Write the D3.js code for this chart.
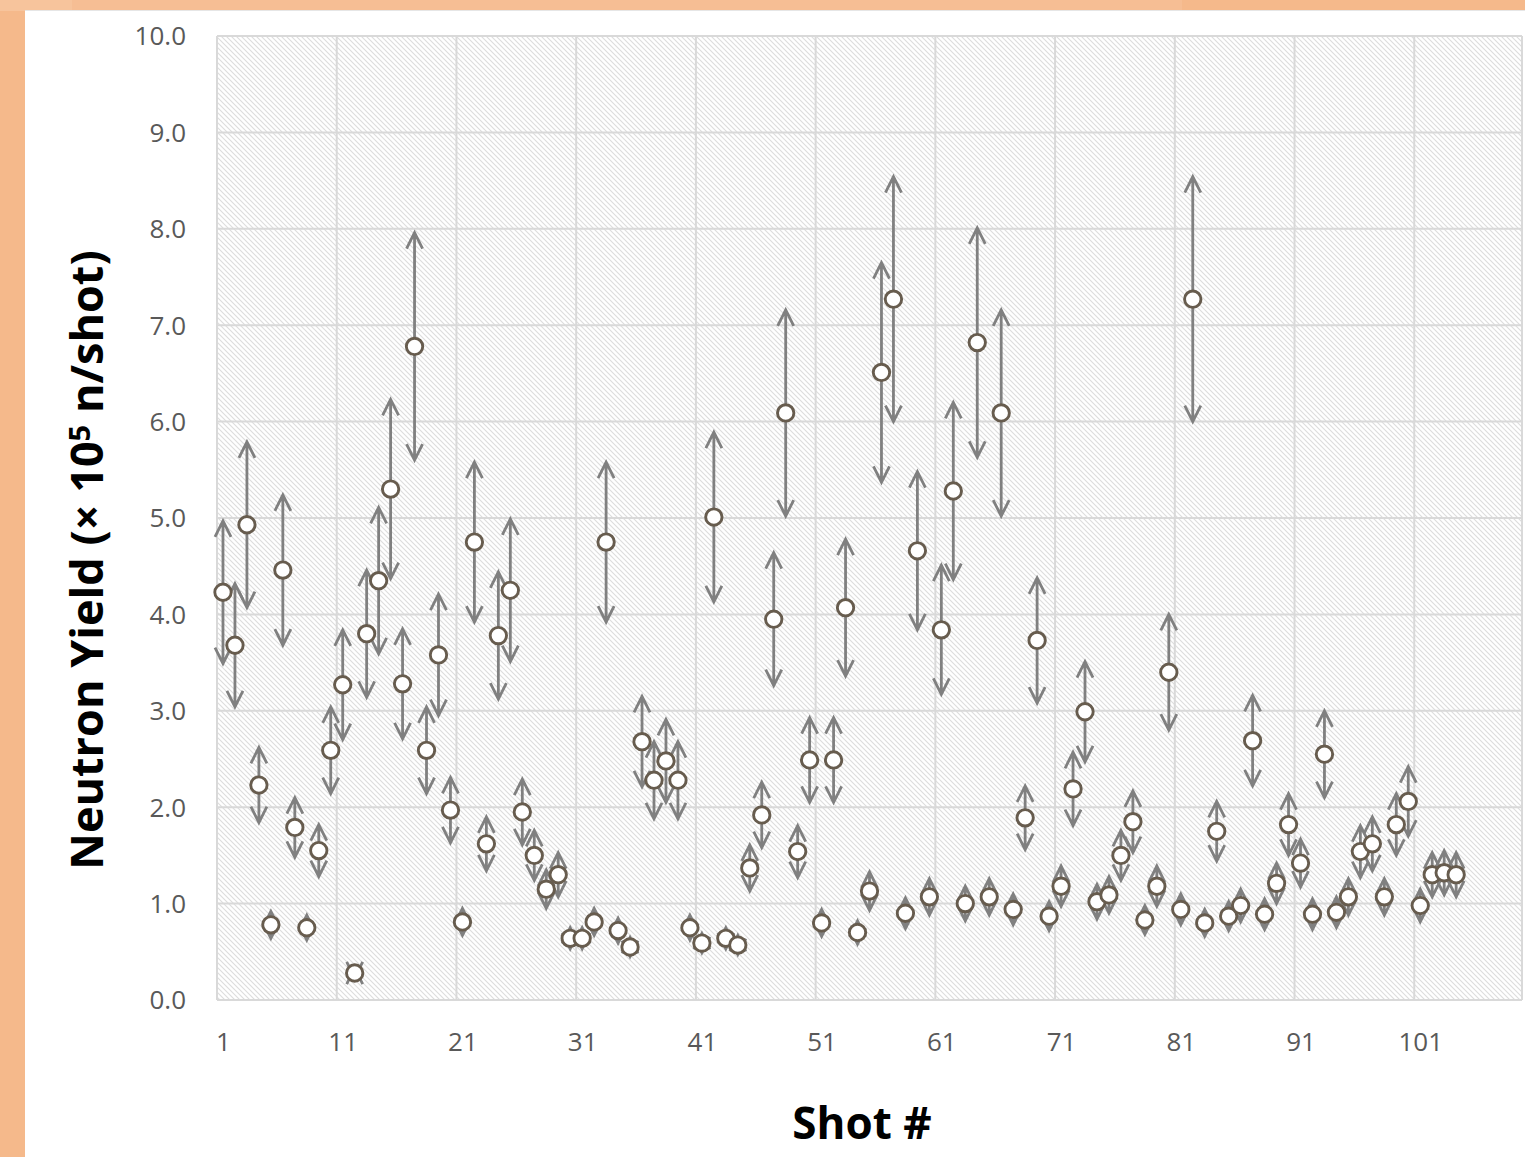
<!DOCTYPE html>
<html>
<head>
<meta charset="utf-8">
<script src="https://cdn.jsdelivr.net/npm/d3@7"></script>
<style>
  body { margin: 0; background: #f5b98b; }
  svg { display: block; }
</style>
</head>
<body>
<script>
// shot numbers 1..104 (axis runs to 109 categories)
var shots = [
  1, 2, 3, 4, 5, 6, 7, 8, 9, 10, 11, 12, 13, 14, 15, 16, 17, 18, 19, 20,
  21, 22, 23, 24, 25, 26, 27, 28, 29, 30, 31, 32, 33, 34, 35, 36, 37, 38, 39, 40,
  41, 42, 43, 44, 45, 46, 47, 48, 49, 50, 51, 52, 53, 54, 55, 56, 57, 58, 59, 60,
  61, 62, 63, 64, 65, 66, 67, 68, 69, 70, 71, 72, 73, 74, 75, 76, 77, 78, 79, 80,
  81, 82, 83, 84, 85, 86, 87, 88, 89, 90, 91, 92, 93, 94, 95, 96, 97, 98, 99, 100,
  101, 102, 103, 104
]

// neutron yield, x 10^5 n/shot
var yields = [
  4.23, 3.68, 4.93, 2.23, 0.78, 4.46, 1.79, 0.75, 1.55, 2.59,
  3.27, 0.28, 3.80, 4.35, 5.30, 3.28, 6.78, 2.59, 3.58, 1.97,
  0.81, 4.75, 1.62, 3.78, 4.25, 1.95, 1.50, 1.15, 1.30, 0.64,
  0.64, 0.81, 4.75, 0.72, 0.55, 2.68, 2.28, 2.48, 2.28, 0.75,
  0.59, 5.01, 0.64, 0.57, 1.37, 1.92, 3.95, 6.09, 1.54, 2.49,
  0.80, 2.49, 4.07, 0.70, 1.13, 6.51, 7.27, 0.90, 4.66, 1.07,
  3.84, 5.28, 1.00, 6.82, 1.07, 6.09, 0.94, 1.89, 3.73, 0.87,
  1.18, 2.19, 2.99, 1.02, 1.09, 1.50, 1.85, 0.83, 1.18, 3.40,
  0.94, 7.27, 0.80, 1.75, 0.87, 0.98, 2.69, 0.89, 1.21, 1.82,
  1.42, 0.89, 2.55, 0.91, 1.07, 1.54, 1.62, 1.07, 1.82, 2.06,
  0.98, 1.30, 1.32, 1.30
]

// half-length of the error bars
var errors = [
  0.74, 0.64, 0.86, 0.39, 0.14, 0.78, 0.31, 0.13, 0.27, 0.45,
  0.57, 0.05, 0.66, 0.76, 0.93, 0.57, 1.18, 0.45, 0.63, 0.34,
  0.14, 0.83, 0.28, 0.66, 0.74, 0.34, 0.26, 0.20, 0.23, 0.11,
  0.11, 0.14, 0.83, 0.13, 0.10, 0.47, 0.40, 0.43, 0.40, 0.13,
  0.10, 0.88, 0.11, 0.10, 0.24, 0.34, 0.69, 1.07, 0.27, 0.44,
  0.14, 0.44, 0.71, 0.12, 0.20, 1.14, 1.27, 0.16, 0.82, 0.19,
  0.67, 0.92, 0.18, 1.19, 0.19, 1.07, 0.16, 0.33, 0.65, 0.15,
  0.21, 0.38, 0.52, 0.18, 0.19, 0.26, 0.32, 0.15, 0.21, 0.60,
  0.16, 1.27, 0.14, 0.31, 0.15, 0.17, 0.47, 0.16, 0.21, 0.32,
  0.25, 0.16, 0.45, 0.16, 0.19, 0.27, 0.28, 0.19, 0.32, 0.36,
  0.17, 0.23, 0.23, 0.23
]

var xTickLabels = [1, 11, 21, 31, 41, 51, 61, 71, 81, 91, 101]
var yTickLabels = [0, 1, 2, 3, 4, 5, 6, 7, 8, 9, 10]
var categoryCount = 109

var data = shots.map(function (s, i) {
  return { shot: s, value: yields[i], err: errors[i] }
})

var W = 1525, H = 1157
var plot = { left: 217, top: 36, right: 1522, bottom: 1000 }

var svg = d3.select('body').append('svg')
  .attr('width', W)
  .attr('height', H)

// orange frame + white panel
svg.append('rect').attr('width', W).attr('height', H).attr('fill', '#f5b98b')
svg.append('rect').attr('x', 0).attr('y', 0).attr('width', 1182).attr('height', 11).attr('fill', '#f6be94')
svg.append('rect').attr('x', 0).attr('y', 0).attr('width', 72).attr('height', 11).attr('fill', '#f7c49c')
svg.append('rect').attr('x', 25).attr('y', 10).attr('width', W - 25).attr('height', H - 10).attr('fill', '#ffffff')
svg.append('line').attr('x1', 25).attr('x2', W).attr('y1', 10.5).attr('y2', 10.5)
  .attr('stroke', '#e6e6e6').attr('stroke-width', 1)

// hatch fill for plot area
var defs = svg.append('defs')
var pat = defs.append('pattern')
  .attr('id', 'hatch')
  .attr('patternUnits', 'userSpaceOnUse')
  .attr('width', 5).attr('height', 5)
pat.append('rect').attr('width', 5).attr('height', 5).attr('fill', '#ffffff')
pat.append('path')
  .attr('d', 'M-1,-1 L6,6 M-1,4 L1,6 M4,-1 L6,1')
  .attr('stroke', '#dddddd')
  .attr('stroke-width', 1.1)

var x = d3.scaleLinear()
  .domain([0.5, categoryCount + 0.5])
  .range([plot.left, plot.right])

var y = d3.scaleLinear()
  .domain([0, 10])
  .range([plot.bottom, plot.top])

svg.append('rect')
  .attr('x', plot.left).attr('y', plot.top)
  .attr('width', plot.right - plot.left)
  .attr('height', plot.bottom - plot.top)
  .attr('fill', 'url(#hatch)')

// gridlines
var grid = svg.append('g').attr('class', 'grid')
grid.selectAll('.hgrid')
  .data(yTickLabels)
  .enter().append('line')
  .attr('x1', plot.left).attr('x2', plot.right)
  .attr('y1', function (d) { return y(d) }).attr('y2', function (d) { return y(d) })
  .attr('stroke', '#d9d9d9').attr('stroke-width', 2)

// vertical gridlines sit between categories, every 10
var vgrid = d3.range(0.5, categoryCount + 0.6, 10).concat([categoryCount + 0.5])
grid.selectAll('.vgrid')
  .data(vgrid)
  .enter().append('line')
  .attr('x1', function (d) { return x(d) }).attr('x2', function (d) { return x(d) })
  .attr('y1', plot.top).attr('y2', plot.bottom)
  .attr('stroke', '#d9d9d9').attr('stroke-width', 2)

// axes
var yAxis = svg.append('g')
  .attr('transform', 'translate(' + (plot.left - 31) + ',0)')
  .call(d3.axisLeft(y).tickValues(yTickLabels).tickFormat(d3.format('.1f')).tickSize(0).tickPadding(0))
yAxis.select('.domain').remove()
yAxis.selectAll('text')
  .attr('fill', '#595959')
  .style('font-family', 'Open Sans')
  .style('font-size', '26px')
  .attr('dy', '0.34em')

var xAxis = svg.append('g')
  .attr('transform', 'translate(0,' + (plot.bottom + 33) + ')')
  .call(d3.axisBottom(x).tickValues(xTickLabels).tickFormat(d3.format('d')).tickSize(0).tickPadding(0))
xAxis.select('.domain').remove()
xAxis.selectAll('text')
  .attr('fill', '#595959')
  .style('font-family', 'Open Sans')
  .style('font-size', '26px')

// error bars with open arrow heads
var aw = 8, ah = 16
var bars = svg.append('g').attr('class', 'errbars')
bars.selectAll('path')
  .data(data)
  .enter().append('path')
  .attr('d', function (d) {
    var cx = x(d.shot)
    var t = y(d.value + d.err)
    var b = y(d.value - d.err)
    return 'M' + cx + ',' + t + 'L' + cx + ',' + b +
      'M' + (cx - aw) + ',' + (t + ah) + 'L' + cx + ',' + t + 'L' + (cx + aw) + ',' + (t + ah) +
      'M' + (cx - aw) + ',' + (b - ah) + 'L' + cx + ',' + b + 'L' + (cx + aw) + ',' + (b - ah)
  })
  .attr('fill', 'none')
  .attr('stroke', '#808080')
  .attr('stroke-width', 2.8)

// markers
svg.append('g').attr('class', 'markers')
  .selectAll('circle')
  .data(data)
  .enter().append('circle')
  .attr('cx', function (d) { return x(d.shot) })
  .attr('cy', function (d) { return y(d.value) })
  .attr('r', 8.2)
  .attr('fill', '#ffffff')
  .attr('stroke', '#675c4e')
  .attr('stroke-width', 2.9)

// axis titles
svg.append('text')
  .attr('transform', 'translate(103,560) rotate(-90)')
  .attr('text-anchor', 'middle')
  .style('font-family', 'Open Sans')
  .style('font-weight', 'bold')
  .style('font-size', '45px')
  .attr('fill', '#000000')
  .call(function (t) {
    t.append('tspan').text('Neutron Yield (\u00d7 10')
    t.append('tspan').attr('dy', '-0.45em').style('font-size', '29px').text('5')
    t.append('tspan').attr('dy', '0.29em').text(' n/shot)')
  })

svg.append('text')
  .attr('x', 862)
  .attr('y', 1139)
  .attr('text-anchor', 'middle')
  .style('font-family', 'Open Sans')
  .style('font-weight', 'bold')
  .style('font-size', '44px')
  .attr('fill', '#000000')
  .text('Shot #')
</script>
</body>
</html>
